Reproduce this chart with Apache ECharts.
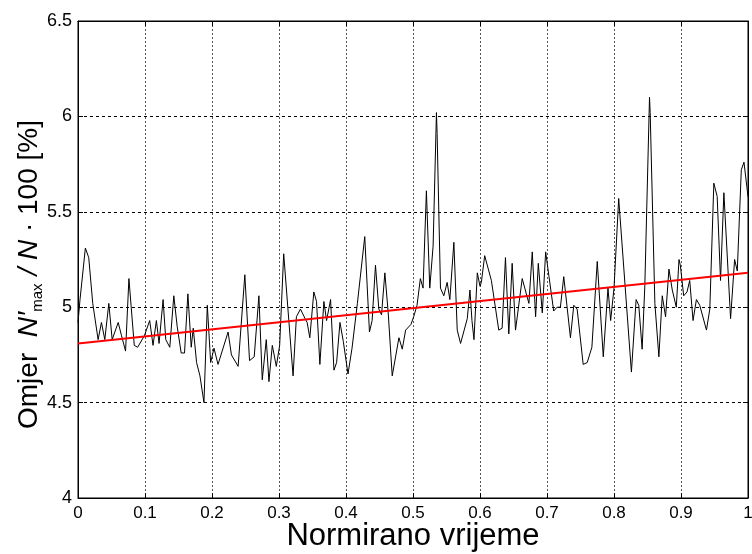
<!DOCTYPE html>
<html>
<head>
<meta charset="utf-8">
<script src="https://cdn.jsdelivr.net/npm/echarts@6/dist/echarts.min.js"></script>
<style>
html,body{margin:0;padding:0;background:#fff;}
#chart{width:752px;height:554px;}
</style>
</head>
<body>
<div id="chart"></div>
<script>
// Normalized time of each traced vertex
var timeVals = [0.000,0.003,0.011,0.016,0.022,0.030,0.035,0.040,0.046,0.051,0.060,0.065,0.071,0.076,0.084,0.089,0.099,0.107,0.112,0.117,0.121,0.127,0.131,0.137,0.143,0.148,0.154,0.159,0.164,0.169,
0.172,0.177,0.182,0.188,0.193,0.198,0.203,0.209,0.224,0.229,0.239,0.249,0.256,0.263,0.270,0.275,0.281,0.285,0.290,0.296,0.301,0.307,0.321,0.326,0.332,0.339,
0.342,0.346,0.352,0.356,0.361,0.367,0.371,0.377,0.382,0.386,0.391,0.396,0.403,0.409,0.417,0.428,0.435,0.439,0.444,0.449,0.453,0.458,0.463,0.469,0.479,0.484,0.489,0.497,0.501,0.506,
0.511,0.515,0.520,0.525,0.530,0.535,0.536,0.541,0.546,0.551,0.555,0.561,0.566,0.571,0.581,0.585,0.588,0.591,0.596,0.600,0.602,0.607,0.617,0.628,0.633,0.638,0.643,0.648,0.653,0.663,0.673,
0.678,0.683,0.687,0.693,0.698,0.703,0.710,0.715,0.720,0.725,0.735,0.740,0.745,0.754,0.760,0.767,0.775,0.784,0.791,0.795,0.800,0.807,0.826,0.833,0.837,0.842,0.846,0.853,0.854,
0.861,0.867,0.872,0.877,0.882,0.887,0.893,0.897,0.899,0.904,0.909,0.913,0.918,0.923,0.928,0.938,0.943,0.949,0.954,0.959,0.964,0.974,0.980,0.984,0.990,0.994,1.000];
// Ratio N'max / N * 100 [%] at each vertex
var ratioVals = [4.92,5.04,5.31,5.26,5.02,4.83,4.92,4.83,5.02,4.83,4.92,4.85,4.77,5.15,4.80,4.79,4.85,4.93,4.80,4.93,4.81,5.04,4.83,4.79,5.06,4.90,4.76,4.76,5.07,4.79,
4.89,4.71,4.64,4.50,5.01,4.71,4.785,4.70,4.87,4.75,4.69,5.17,4.72,4.74,5.06,4.62,4.83,4.61,4.80,4.69,4.80,5.28,4.64,4.95,4.99,4.94,
4.92,4.84,5.08,5.03,4.70,5.03,4.93,5.04,4.67,4.71,4.92,4.82,4.65,4.785,5.02,5.37,4.87,4.93,5.22,4.99,4.96,5.18,4.97,4.64,4.84,4.78,4.88,4.91,4.95,5.01,
5.15,5.10,5.61,5.10,5.32,6.02,5.91,5.10,5.06,5.13,5.04,5.34,4.88,4.81,4.94,5.09,4.93,4.83,5.18,5.11,5.13,5.27,5.14,4.88,4.89,5.26,4.86,5.23,4.88,5.15,5.02,
5.29,4.95,5.23,4.97,5.29,5.16,4.98,5.00,5.00,5.16,4.84,5.01,4.99,4.70,4.71,4.79,5.24,4.74,5.10,4.93,5.10,5.57,4.66,5.04,5.01,4.78,5.11,6.10,6.02,
5.02,4.74,5.06,4.95,5.20,5.09,5.00,5.25,5.22,5.06,5.08,5.14,4.93,5.04,5.01,4.88,4.99,5.65,5.58,5.14,5.60,4.94,5.25,5.19,5.72,5.76,5.58];
// Linear trend end points
var trendTime = [0, 1];
var trendVals = [4.81, 5.18];
// Tick settings
var xTicks = {min: 0, max: 1, interval: 0.1};
var yTicks = {min: 4, max: 6.5, interval: 0.5};

var lineData = timeVals.map(function (t, i) { return [t, ratioVals[i]]; });
var trendData = trendTime.map(function (t, i) { return [t, trendVals[i]]; });

var FONT = 'Liberation Sans, Arial, sans-serif';
var chart = echarts.init(document.getElementById('chart'), null, {renderer: 'canvas'});
var hGrid = {show: true, lineStyle: {color: '#000', width: 1, type: [3, 3]}};
var vGrid = {show: true, lineStyle: {color: '#555', width: 1, type: [2, 2]}};
chart.setOption({
  animation: false,
  backgroundColor: '#fff',
  grid: {left: 78, right: 4, top: 21, bottom: 56, show: true, borderColor: '#000', borderWidth: 1,
         backgroundColor: 'transparent', containLabel: false, outerBoundsMode: 'none'},
  xAxis: [{
    type: 'value', min: xTicks.min, max: xTicks.max, interval: xTicks.interval,
    name: 'Normirano vrijeme', nameLocation: 'middle', nameGap: 23, nameMoveOverlap: false,
    nameTextStyle: {fontSize: 31, color: '#000', fontFamily: FONT, lineHeight: 31},
    axisLine: {show: true, onZero: false, lineStyle: {color: '#000'}},
    axisTick: {show: true, inside: true, length: 5, lineStyle: {color: '#000'}},
    axisLabel: {color: '#000', fontSize: 17, fontFamily: FONT, margin: 7},
    splitLine: vGrid
  }, {
    type: 'value', position: 'top', min: xTicks.min, max: xTicks.max, interval: xTicks.interval,
    axisLine: {show: true, onZero: false, lineStyle: {color: '#000'}},
    axisTick: {show: true, inside: true, length: 5, lineStyle: {color: '#000'}},
    axisLabel: {show: false}, splitLine: {show: false}
  }],
  yAxis: [{
    type: 'value', min: yTicks.min, max: yTicks.max, interval: yTicks.interval,
    name: '{a|Omjer  }{i|N′}{s|max}{i| / N}{a| · 100 [%]}',
    nameLocation: 'middle', nameGap: 33, nameMoveOverlap: false,
    nameTextStyle: {
      color: '#000', fontFamily: FONT, fontSize: 28,
      padding: [0, 30, 0, 0],
      rich: {
        a: {fontSize: 28, fontFamily: FONT, color: '#000', lineHeight: 32},
        i: {fontSize: 28, fontFamily: FONT, color: '#000', fontStyle: 'italic', lineHeight: 32},
        s: {fontSize: 15, fontFamily: FONT, color: '#000', verticalAlign: 'bottom', lineHeight: 32}
      }
    },
    axisLine: {show: true, onZero: false, lineStyle: {color: '#000'}},
    axisTick: {show: true, inside: true, length: 5, lineStyle: {color: '#000'}},
    axisLabel: {color: '#000', fontSize: 18, fontFamily: FONT, margin: 6},
    splitLine: hGrid
  }, {
    type: 'value', position: 'right', min: yTicks.min, max: yTicks.max, interval: yTicks.interval,
    axisLine: {show: true, onZero: false, lineStyle: {color: '#000'}},
    axisTick: {show: true, inside: true, length: 5, lineStyle: {color: '#000'}},
    axisLabel: {show: false}, splitLine: {show: false}
  }],
  series: [{
    type: 'line', data: lineData, showSymbol: false, symbol: 'none',
    lineStyle: {color: '#000', width: 1}, z: 3
  }, {
    type: 'line', data: trendData, showSymbol: false, symbol: 'none',
    lineStyle: {color: '#ff0000', width: 2}, z: 4
  }]
});
</script>
</body>
</html>
